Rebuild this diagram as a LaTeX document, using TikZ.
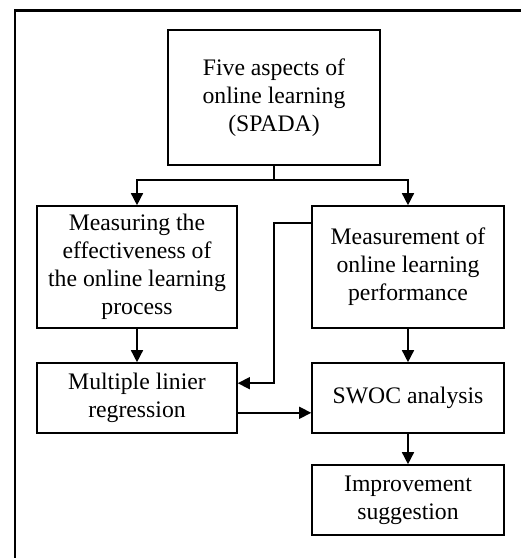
\documentclass[tikz,border=0pt]{standalone}
\usepackage{fontspec}
\setmainfont{Liberation Serif}
\usetikzlibrary{arrows.meta}
\begin{document}
\begin{tikzpicture}[x=1pt,y=1pt,
  box/.style={draw, line width=1.6pt, inner sep=0pt, align=center,
    font=\fontsize{23.7}{28}\selectfont},
  arr/.style={line width=1.5pt, -{Triangle[length=12pt,width=12pt]}},
  ln/.style={line width=1.5pt}]
\useasboundingbox (0,0) rectangle (521,558);
\draw[line width=2.4pt] (15,0) -- (15,547.5) -- (522,547.5);
\node[box, minimum width=212pt, minimum height=135pt] (top) at (274,460.5)
  {Five aspects of\\online learning\\(SPADA)};
\node[box, minimum width=200pt, minimum height=122pt] (left) at (137,291)
  {Measuring the\\effectiveness of\\the online learning\\process};
\node[box, minimum width=192pt, minimum height=122pt] (right) at (408,291)
  {Measurement of\\online learning\\performance};
\node[box, minimum width=200pt, minimum height=70pt] (mlr) at (137,160)
  {Multiple linier\\regression};
\node[box, minimum width=192pt, minimum height=70pt] (swoc) at (408,160)
  {SWOC analysis};
\node[box, minimum width=192pt, minimum height=70pt] (imp) at (408,58)
  {Improvement\\suggestion};
\coordinate (split) at (274,378);
\draw[ln] (top.south) -- (split);
\draw[arr] (split) -| (left.north);
\draw[arr] (split) -| (right.north);
\draw[arr] (left.south) -- (mlr.north);
\draw[arr] (right.south) -- (swoc.north);
\draw[arr] (swoc.south) -- (imp.north);
\coordinate (fb1) at ([yshift=-18pt]right.north west);
\coordinate (fb2) at ([yshift=-21pt]mlr.north east);
\draw[arr] (fb1) -- (fb1 -| split) |- (fb2);
\coordinate (m2s) at ([yshift=21pt]mlr.south east);
\draw[arr] (m2s) -- (m2s -| swoc.west);
\end{tikzpicture}
\end{document}
